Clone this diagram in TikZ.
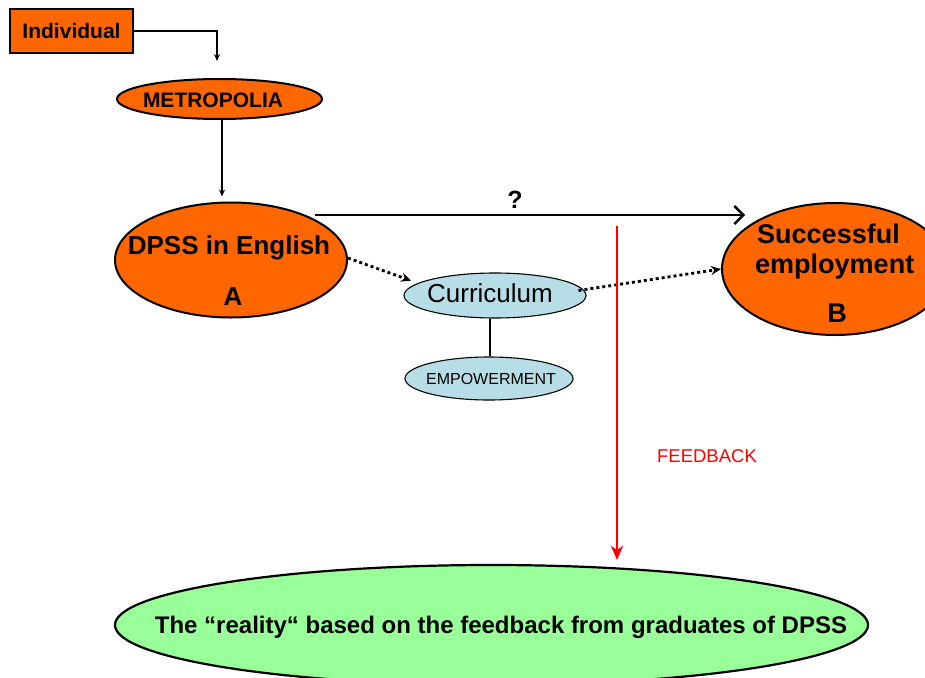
\documentclass[tikz,border=0pt]{standalone}
\usepackage{fontspec}
\setmainfont{Liberation Sans}
\usetikzlibrary{shapes.geometric,arrows.meta}
\definecolor{orng}{HTML}{FF6600}
\definecolor{lblue}{HTML}{B7DDE6}
\definecolor{lgreen}{HTML}{99FF99}
\definecolor{fbred}{HTML}{FF0000}
\tikzset{
  orangebox/.style={draw=black,line width=1.8pt,fill=orng,inner sep=0pt},
  orangeell/.style={ellipse,draw=black,line width=2pt,fill=orng,inner sep=0pt},
  blueell/.style={ellipse,draw=black,line width=1.1pt,fill=lblue,inner sep=0pt},
  greenell/.style={ellipse,draw=black,line width=2.2pt,fill=lgreen,inner sep=0pt},
  thinarrow/.style={line width=1.3pt,-{Stealth[length=7pt,width=6pt]}},
  dotarrow/.style={line width=2.8pt,dash pattern=on 3pt off 3pt,-{Stealth[length=10pt,width=9pt]}},
  qarrow/.style={line width=2.6pt,-{Straight Barb[length=9pt,width=18pt,line width=2.4pt]}},
  redarrow/.style={draw=fbred,line width=2.8pt,-{Stealth[length=14pt,width=12pt,inset=4pt]}},
  lbl/.style={inner sep=0pt,text=black}
}
\begin{document}
\begin{tikzpicture}[x=1pt,y=-1pt]
\clip (0,0) rectangle (925,677);
\fill[white] (0,0) rectangle (925,677);

% nodes
\node[orangebox,minimum width=123pt,minimum height=44pt] (ind) at (71.5,31) {\fontsize{21}{24}\selectfont\bfseries Individual};
\node[orangeell,minimum width=205pt,minimum height=40pt] (metro) at (219.5,99) {};
\node[lbl] (metroT) at (213,100) {\fontsize{21}{24}\selectfont\bfseries METROPOLIA};
\node[orangeell,minimum width=232pt,minimum height=115pt] (dpss) at (231,260) {};
\node[lbl] (dpssT) at (229,248) {\fontsize{26}{30}\selectfont\bfseries DPSS in English};
\node[lbl] (dpssA) at (233,297) {\fontsize{26}{30}\selectfont\bfseries A};
\node[blueell,minimum width=182pt,minimum height=45pt] (curr) at (495,295.5) {};
\node[lbl] (currT) at (490,293) {\fontsize{26}{30}\selectfont Curriculum};
\node[blueell,minimum width=168pt,minimum height=43pt] (emp) at (489,378.5) {};
\node[lbl] (empT) at (491,379) {\fontsize{16}{18}\selectfont EMPOWERMENT};
\node[orangeell,minimum width=226pt,minimum height=132pt] (succ) at (835,269) {};
\node[lbl,anchor=base west] (succT1) at (757,243) {\fontsize{27}{30}\selectfont\bfseries Successful};
\node[lbl,anchor=base west] (succT2) at (755,273) {\fontsize{27}{30}\selectfont\bfseries employment};
\node[lbl,anchor=base] (succB) at (837,322) {\fontsize{27}{30}\selectfont\bfseries B};
\node[greenell,minimum width=753pt,minimum height=120pt] (real) at (491.5,625) {};
\node[lbl] (realT) at (501,627) {\fontsize{24}{28}\selectfont\bfseries The “reality“ based on the feedback from graduates of DPSS};
\node[lbl,text=fbred] (fb) at (707,456) {\fontsize{18.5}{22}\selectfont FEEDBACK};
\node[lbl] (q) at (515,200) {\fontsize{25}{28}\selectfont\bfseries ?};

% helper coordinates
\coordinate (qs) at (315,215);
\coordinate (qe) at (745,215);
\coordinate (fbs) at (617,226);
\coordinate (fbe) at (617,560);
\coordinate (indTurn) at (217,31);
\coordinate (indEnd) at (217,61);

% connectors
\draw[thinarrow] (ind.east) -- (indTurn) -- (indEnd);
\draw[thinarrow,shorten >=5pt] (metro.south -| 222,0) -- (dpss.north -| 222,0);
\draw[qarrow] (qs) -- (qe);
\draw[dotarrow,shorten >=1pt] (dpss.east) ++(0,-2) -- (412,281);
\draw[dotarrow] (curr.east) ++(-8,-5) -- (succ.west);
\draw[line width=1.3pt] (curr.south -| 490,0) -- (emp.north -| 490,0);
\draw[redarrow] (fbs) -- (fbe);
\end{tikzpicture}
\end{document}
